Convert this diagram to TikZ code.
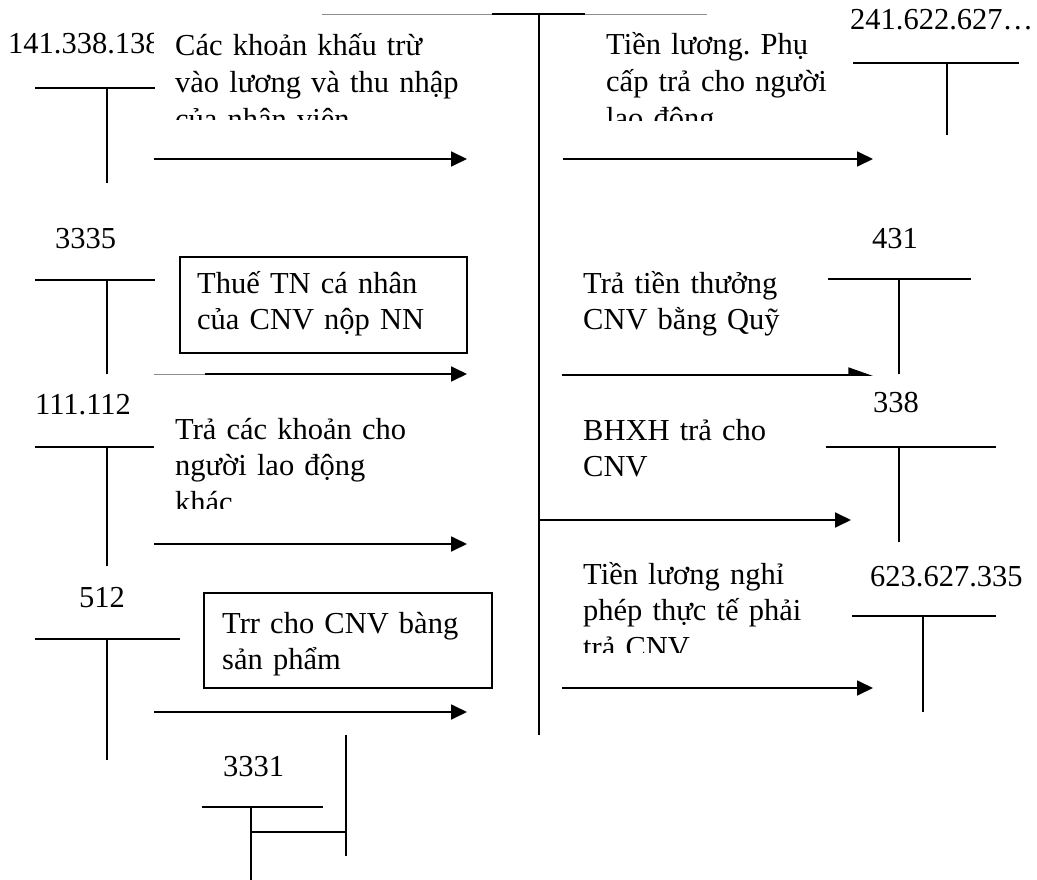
\documentclass[tikz,border=0pt]{standalone}
\usepackage{fontspec}
\setmainfont{Liberation Serif}
\usetikzlibrary{arrows.meta}
\frenchspacing
\begin{document}
\begin{tikzpicture}[x=1pt,y=-1pt,
  txt/.style={anchor=base west, inner sep=0pt, align=left, text width=340pt, font=\fontsize{30.5}{36.8}\selectfont\frenchspacing},
  lbl/.style={anchor=base west, inner sep=0pt, font=\fontsize{30.5}{36.8}\selectfont\frenchspacing},
  tline/.style={line width=1.8pt},
  thin/.style={line width=0.8pt, black!45},
  arr/.style={line width=1.8pt, -{Triangle[length=16pt,width=15pt]}},
  halfarr/.style={line width=1.8pt, -{Triangle[left,length=22pt,width=15pt]}},
  boxed/.style={draw, line width=1.6pt, inner sep=0pt, anchor=north west},
]
\useasboundingbox (0,0) rectangle (1037,880);

% central account
\coordinate (cl) at (322,14); \coordinate (cr) at (707,14);
\coordinate (cbl) at (492,14); \coordinate (cbr) at (585,14);
\coordinate (ct) at (539,14); \coordinate (cb) at (539,735);
\draw[thin] (cl) -- (cr);
\draw[tline] (cbl) -- (cbr);
\draw[tline] (ct) -- (cb);

% ---------- row 1 ----------
\begin{scope}
\clip (0,0) rectangle (153,70);
\node[lbl] (l141) at (8,54) {141.338.138};
\end{scope}
\coordinate (a1l) at (35,88); \coordinate (a1r) at (155,88);
\coordinate (a1t) at (107,88); \coordinate (a1b) at (107,183);
\draw[tline] (a1l) -- (a1r) (a1t) -- (a1b);
\begin{scope}
\clip (165,20) rectangle (480,120);
\node[txt] (t1) at (175,56) {Các khoản khấu trừ\\vào lương và thu nhập\\của nhân viên};
\end{scope}
\coordinate (p1s) at (154,159); \coordinate (p1e) at (467,159);
\draw[arr] (p1s) -- (p1e);

\begin{scope}
\clip (595,20) rectangle (880,121);
\node[txt] (t2) at (606,55) {Tiền lương. Phụ\\cấp trả cho người\\lao động};
\end{scope}
\node[lbl] (l241) at (850,30) {241.622.627…};
\coordinate (b1l) at (853,63); \coordinate (b1r) at (1019,63);
\coordinate (b1t) at (947,63); \coordinate (b1b) at (947,135);
\draw[tline] (b1l) -- (b1r) (b1t) -- (b1b);
\coordinate (q1s) at (563,159); \coordinate (q1e) at (873,159);
\draw[arr] (q1s) -- (q1e);

% ---------- row 2 ----------
\node[lbl] (l3335) at (55,248) {3335};
\coordinate (a2l) at (35,280); \coordinate (a2r) at (155,280);
\coordinate (a2t) at (107,280); \coordinate (a2b) at (107,374);
\draw[tline] (a2l) -- (a2r) (a2t) -- (a2b);
\node[boxed, minimum width=287pt, minimum height=96pt] (box1) at (179,256) {};
\node[txt] (t3) at (197,293) {Thuế TN cá nhân\\của CNV nộp NN};
\coordinate (p2s) at (154,374); \coordinate (p2m) at (205,374); \coordinate (p2e) at (467,374);
\draw[thin] (p2s) -- (p2m);
\draw[arr] (p2m) -- (p2e);

\node[txt] (t4) at (583,293) {Trả tiền thưởng\\CNV bằng Quỹ};
\node[lbl] (l431) at (872,248) {431};
\coordinate (b2l) at (828,279); \coordinate (b2r) at (971,279);
\coordinate (b2t) at (899,279); \coordinate (b2b) at (899,374);
\draw[tline] (b2l) -- (b2r) (b2t) -- (b2b);
\coordinate (q2s) at (562,375); \coordinate (q2e) at (873,375);
\draw[halfarr] (q2s) -- (q2e);

% ---------- row 3 ----------
\node[lbl] (l111) at (35,414) {111.112};
\coordinate (a3l) at (35,447); \coordinate (a3r) at (154,447);
\coordinate (a3t) at (107,447); \coordinate (a3b) at (107,566);
\draw[tline] (a3l) -- (a3r) (a3t) -- (a3b);
\begin{scope}
\clip (165,395) rectangle (480,508);
\node[txt] (t5) at (175,439) {Trả các khoản cho\\người lao động\\khác};
\end{scope}
\coordinate (p3s) at (154,544); \coordinate (p3e) at (467,544);
\draw[arr] (p3s) -- (p3e);

\node[txt] (t6) at (583,440) {BHXH trả cho\\CNV};
\node[lbl] (l338) at (873,412) {338};
\coordinate (b3l) at (826,447); \coordinate (b3r) at (996,447);
\coordinate (b3t) at (899,447); \coordinate (b3b) at (899,542);
\draw[tline] (b3l) -- (b3r) (b3t) -- (b3b);
\coordinate (q3s) at (539,520); \coordinate (q3e) at (851,520);
\draw[arr] (q3s) -- (q3e);

% ---------- row 4 ----------
\node[lbl] (l512) at (79,607) {512};
\coordinate (a4l) at (35,639); \coordinate (a4r) at (180,639);
\coordinate (a4t) at (107,639); \coordinate (a4b) at (107,760);
\draw[tline] (a4l) -- (a4r) (a4t) -- (a4b);
\node[boxed, minimum width=288pt, minimum height=95pt] (box2) at (203,592) {};
\node[txt] (t7) at (222,633) {Trr cho CNV bàng\\sản phẩm};
\coordinate (p4s) at (154,712); \coordinate (p4e) at (467,712);
\draw[arr] (p4s) -- (p4e);

\begin{scope}
\clip (575,540) rectangle (860,652);
\node[txt] (t8) at (583,584) {Tiền lương nghỉ\\phép thực tế phải\\trả CNV};
\end{scope}
\node[lbl] (l623) at (870,586) {623.627.335};
\coordinate (b4l) at (852,616); \coordinate (b4r) at (996,616);
\coordinate (b4t) at (923,616); \coordinate (b4b) at (923,712);
\draw[tline] (b4l) -- (b4r) (b4t) -- (b4b);
\coordinate (q4s) at (562,688); \coordinate (q4e) at (873,688);
\draw[arr] (q4s) -- (q4e);

% ---------- 3331 ----------
\node[lbl] (l3331) at (223,776) {3331};
\coordinate (a5l) at (202,807); \coordinate (a5r) at (323,807);
\coordinate (a5t) at (251,807); \coordinate (a5b) at (251,880);
\coordinate (a5m) at (251,832); \coordinate (a5n) at (346,832);
\coordinate (a5vt) at (346,735); \coordinate (a5vb) at (346,856);
\draw[tline] (a5l) -- (a5r) (a5t) -- (a5b) (a5m) -- (a5n) (a5vt) -- (a5vb);
\end{tikzpicture}
\end{document}
